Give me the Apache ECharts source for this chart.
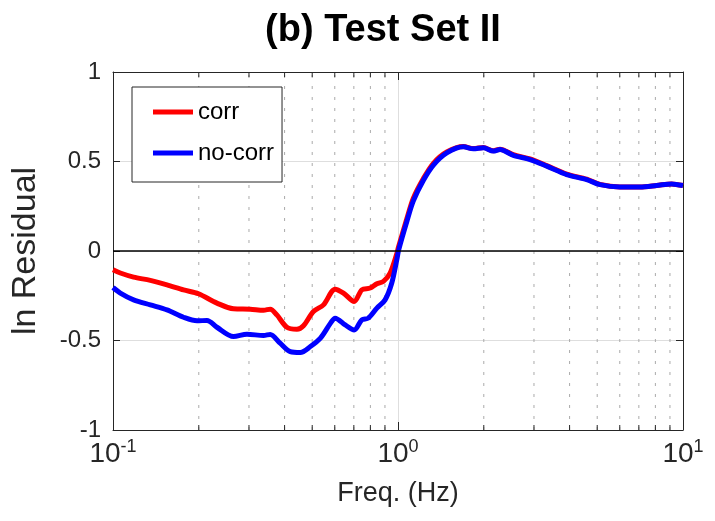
<!DOCTYPE html>
<html>
<head>
<meta charset="utf-8">
<script src="https://cdn.jsdelivr.net/npm/echarts@6/dist/echarts.min.js"></script>
<style>html,body{margin:0;padding:0;background:#fff;}#c{width:715px;height:521px;}</style>
</head>
<body>
<div id="c"></div>
<script>
var titleText = '(b) Test Set II';
var xName = 'Freq. (Hz)';
var yName = 'ln Residual';
var seriesNames = ['corr', 'no-corr'];
var yTicks = [-1, -0.5, 0, 0.5, 1];
var xMajor = [0.1, 1, 10];
var xMinor = [0.2,0.3,0.4,0.5,0.6,0.7,0.8,0.9,2,3,4,5,6,7,8,9];

var freqCorr = [0.1,0.1061,0.1181,0.1352,0.1547,0.1768,0.1996,0.2316,0.2648,0.303,0.3374,0.3561,0.3758,0.4075,0.4418,0.4659,0.505,0.5476,0.6018,0.6436,0.7018,0.7466,0.7985,0.8431,0.889,0.9382,0.9903,1.003,1.074,1.132,1.228,1.331,1.483,1.696,1.838,1.993,2.16,2.28,2.539,2.905,3.325,3.907,4.592,5.112,6.007,7.062,8.079,9.12,10];
var corr = [-0.105,-0.123,-0.146,-0.164,-0.189,-0.217,-0.239,-0.291,-0.323,-0.325,-0.331,-0.325,-0.357,-0.426,-0.437,-0.418,-0.338,-0.301,-0.213,-0.235,-0.282,-0.217,-0.207,-0.183,-0.170,-0.123,-0.015,0.02,0.18,0.295,0.405,0.49,0.553,0.584,0.572,0.578,0.56,0.569,0.538,0.514,0.477,0.43,0.401,0.372,0.358,0.358,0.366,0.375,0.366];

var freqNoCorr = [0.1,0.1061,0.1181,0.1352,0.1547,0.1768,0.1971,0.2137,0.2316,0.2648,0.2952,0.3374,0.3561,0.3859,0.4187,0.4541,0.4927,0.5345,0.5798,0.6018,0.6528,0.7018,0.7466,0.7867,0.8431,0.9009,0.9509,0.9903,1.005,1.074,1.132,1.228,1.331,1.483,1.696,1.838,1.993,2.16,2.28,2.539,2.905,3.325,3.907,4.592,5.112,6.007,7.062,8.079,9.12,10];
var noCorr = [-0.204,-0.235,-0.273,-0.301,-0.329,-0.370,-0.390,-0.388,-0.426,-0.478,-0.465,-0.472,-0.466,-0.515,-0.562,-0.567,-0.534,-0.487,-0.403,-0.375,-0.413,-0.441,-0.385,-0.375,-0.319,-0.273,-0.179,-0.049,0.005,0.165,0.28,0.395,0.48,0.548,0.582,0.571,0.577,0.558,0.567,0.534,0.511,0.474,0.427,0.399,0.371,0.358,0.358,0.366,0.375,0.366];

function zip(a, b) { return a.map(function (v, i) { return [v, b[i]]; }); }
var FONT = 'Helvetica, Arial, "Liberation Sans", sans-serif';
var AX = '#262626';

var chart = echarts.init(document.getElementById('c'), null, {renderer: 'canvas'});

var xCommon = {
  type: 'log', logBase: 10, min: 0.1, max: 10,
  axisLine: {show: true, onZero: false, lineStyle: {color: AX, width: 1}},
  axisTick: {show: true, inside: true, length: 8, lineStyle: {color: AX}},
  splitLine: {show: false}, minorTick: {show: false}
};
var yCommon = {
  type: 'value', min: -1, max: 1, interval: 0.5,
  axisLine: {show: true, onZero: false, lineStyle: {color: AX, width: 1}},
  axisTick: {show: true, inside: true, length: 7, lineStyle: {color: AX}},
  splitLine: {show: false}
};

chart.setOption({
  animation: false,
  backgroundColor: '#fff',
  title: {
    text: titleText, left: 378, top: 7, textAlign: 'center',
    textStyle: {fontFamily: FONT, fontSize: 38, fontWeight: 'bold', color: '#000'}
  },
  grid: {left: 113, right: 32, top: 72, bottom: 91, containLabel: false, outerBoundsMode: 'none'},
  legend: {
    orient: 'vertical', left: 132, top: 87,
    data: seriesNames,
    icon: 'rect', itemWidth: 40, itemHeight: 5, itemGap: 13,
    padding: [11, 8, 15, 21],
    backgroundColor: '#fff', borderColor: '#262626', borderWidth: 1, borderRadius: 0,
    textStyle: {fontFamily: FONT, fontSize: 24, color: '#000', lineHeight: 28}
  },
  xAxis: [
    Object.assign({}, xCommon, {
      position: 'bottom',
      name: xName, nameLocation: 'middle', nameGap: 50,
      nameTextStyle: {fontFamily: FONT, fontSize: 27, color: '#262626'},
      splitLine: {show: true, lineStyle: {color: '#dedede', width: 1}},
      axisLabel: {
        show: true, margin: 8,
        formatter: function (v) {
          var e = Math.round(Math.log10(v));
          return '{b|10}{s|' + e + '}';
        },
        rich: {
          b: {fontFamily: FONT, fontSize: 28, color: '#262626', lineHeight: 30, verticalAlign: 'bottom'},
          s: {fontFamily: FONT, fontSize: 18, color: '#262626', lineHeight: 18, verticalAlign: 'top'}
        }
      }
    }),
    Object.assign({}, xCommon, {position: 'top', axisLabel: {show: false}})
  ],
  yAxis: [
    Object.assign({}, yCommon, {
      position: 'left',
      name: yName, nameLocation: 'middle', nameGap: 70,
      nameTextStyle: {fontFamily: FONT, fontSize: 34, color: '#262626'},
      splitLine: {show: true, lineStyle: {color: '#dedede', width: 1}},
      axisLabel: {
        show: true, margin: 12, fontFamily: FONT, fontSize: 24, color: '#262626',
        formatter: function (v) { return String(v); }
      }
    }),
    Object.assign({}, yCommon, {position: 'right', axisLabel: {show: false}})
  ],
  series: [
    {
      type: 'custom', name: 'minor', silent: true, z: 1,
      xAxisIndex: 0, yAxisIndex: 0,
      data: xMinor.map(function (v) { return [v]; }),
      renderItem: function (params, api) {
        var v = api.value(0);
        var p1 = api.coord([v, -1]);
        var p2 = api.coord([v, 1]);
        return {
          type: 'group',
          children: [
            {type: 'line', shape: {x1: p1[0], y1: p1[1], x2: p2[0], y2: p2[1]},
             style: {stroke: '#aaaaaa', lineWidth: 1, lineDash: [3, 8]}},
            {type: 'line', shape: {x1: p1[0], y1: p1[1], x2: p1[0], y2: p1[1] - 5},
             style: {stroke: AX, lineWidth: 1}},
            {type: 'line', shape: {x1: p2[0], y1: p2[1], x2: p2[0], y2: p2[1] + 5},
             style: {stroke: AX, lineWidth: 1}}
          ]
        };
      }
    },
    {
      type: 'line', name: seriesNames[0], data: zip(freqCorr, corr),
      showSymbol: false, symbol: 'none', smooth: 0.3, z: 3,
      itemStyle: {color: '#ff0000'},
      lineStyle: {color: '#ff0000', width: 5},
      markLine: {
        silent: true, symbol: 'none', label: {show: false},
        lineStyle: {color: '#000', type: 'solid', width: 1.5},
        data: [{yAxis: 0}]
      }
    },
    {
      type: 'line', name: seriesNames[1], data: zip(freqNoCorr, noCorr),
      showSymbol: false, symbol: 'none', smooth: 0.3, z: 4,
      itemStyle: {color: '#0000ff'},
      lineStyle: {color: '#0000ff', width: 5}
    }
  ]
});
</script>
</body>
</html>
